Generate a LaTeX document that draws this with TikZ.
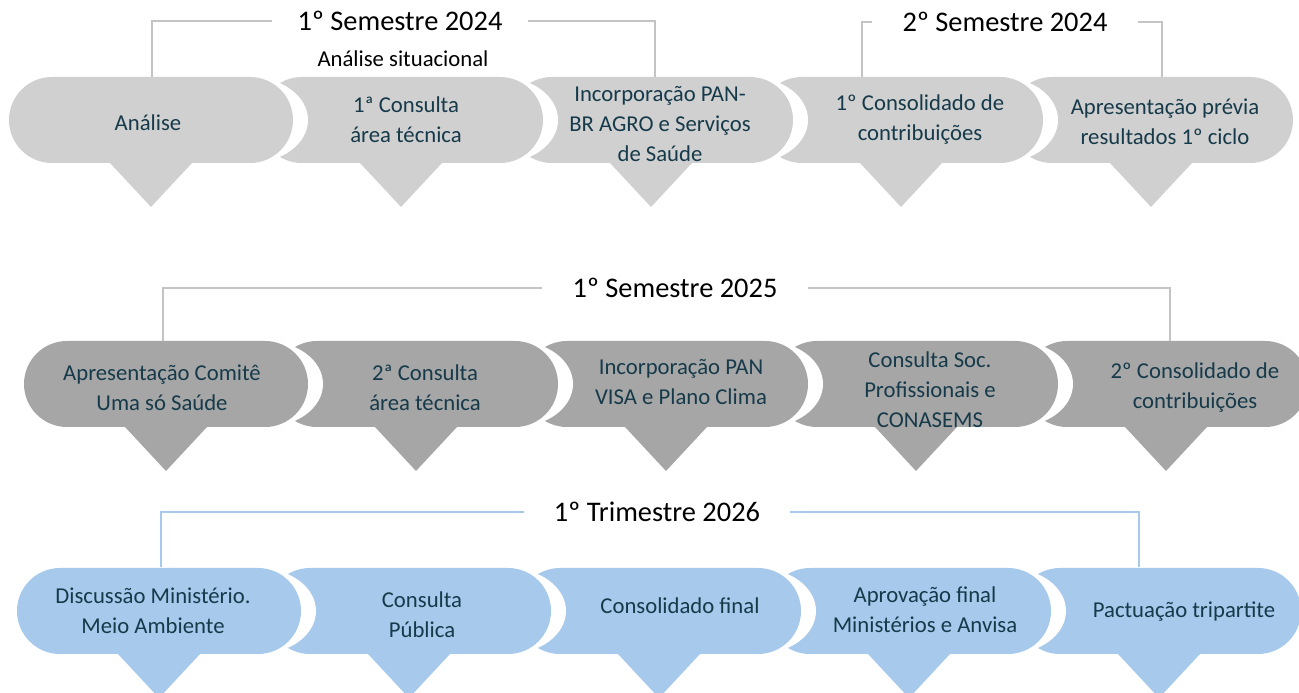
\documentclass[tikz,border=0pt]{standalone}
\usepackage{fontspec}
\setmainfont{Carlito}
\definecolor{txt}{HTML}{163A4A}
\definecolor{rowA}{HTML}{D0D0D0}
\definecolor{rowB}{HTML}{A6A6A6}
\definecolor{rowC}{HTML}{A6C9EC}
\definecolor{lineA}{HTML}{C4C4C4}
% pill with a pointer below: left x, bottom y, colour
\newcommand{\phasebox}[3]{%
  \fill[white] (#1+241,#2+86) arc[start angle=90, end angle=-90, x radius=58pt, y radius=43pt];
  \fill[#3] (#1+43,#2) arc[start angle=270, end angle=90, radius=43pt] -- (#1+241,#2+86)
    arc[start angle=90, end angle=-90, radius=43pt] -- (#1+183,#2) -- (#1+142,#2-44) -- (#1+101,#2) -- cycle;}

\begin{document}
\begin{tikzpicture}[x=1pt, y=1pt,
		every node/.style = {align=center, text=txt, font=\fontsize{22.7}{30}\selectfont},
		period/.style = {text=black, font=\fontsize{28.4}{34}\selectfont, inner xsep=30pt},
		bracket/.style = {draw=lineA, line width=2pt}]
	\useasboundingbox (0,0) rectangle (1299,693);
	\foreach \i in {4,3,...,0} {
		\phasebox{9+250*\i}{530}{rowA}
		\phasebox{24+250*\i}{266}{rowB}
		\phasebox{17+250*\i}{39}{rowC}
	}
	\node (a1) at (148,570) {Análise};
	\node (a2) at (406,573) {1ª Consulta\\área técnica};
	\node (a3) at (660,569) {Incorporação PAN-\\BR AGRO e Serviços\\de Saúde};
	\node (a4) at (920,573) {1º Consolidado de\\contribuições};
	\node (a5) at (1165,571) {Apresentação prévia\\resultados 1º ciclo};
	\node (b1) at (162,305) {Apresentação Comitê\\Uma só Saúde};
	\node (b2) at (425,305) {2ª Consulta\\área técnica};
	\node (b3) at (681,311) {Incorporação PAN\\VISA e Plano Clima};
	\node (b4) at (930,303) {Consulta Soc.\\Profissionais e\\CONASEMS};
	\node (b5) at (1195,305) {2º Consolidado de\\contribuições};
	\node (c1) at (153,82) {Discussão Ministério.\\Meio Ambiente};
	\node (c2) at (422,78) {Consulta\\Pública};
	\node (c3) at (680,87) {Consolidado final};
	\node (c4) at (925,83) {Aprovação final\\Ministérios e Anvisa};
	\node (c5) at (1184,81) {Pactuação tripartite};

	\coordinate (p1) at (152,616);
	\coordinate (p3) at (655,616);
	\coordinate (p4) at (862,616);
	\coordinate (p5) at (1162,616);
	\coordinate (q1) at (163,352);
	\coordinate (q5) at (1170,352);
	\coordinate (r1) at (161,126);
	\coordinate (r5) at (1139,126);
	\node[period, inner xsep=25pt] (sem1) at (400,672) {1º Semestre 2024};
	\node[text=black] (sit) at (403,634) {Análise situacional};
	\node[period] (sem2) at (1005,671) {2º Semestre 2024};
	\node[period] (sem3) at (675,405) {1º Semestre 2025};
	\node[period] (tri1) at (657,181) {1º Trimestre 2026};
	\draw[bracket] (p1) |- (sem1.west);
	\draw[bracket] (sem1.east) -| (p3);
	\draw[bracket] (p4) |- (sem2.west);
	\draw[bracket] (sem2.east) -| (p5);
	\draw[bracket] (q1) |- (sem3.west);
	\draw[bracket] (sem3.east) -| (q5);
	\draw[bracket, draw=rowC] (r1) |- (tri1.west);
	\draw[bracket, draw=rowC] (tri1.east) -| (r5);
\end{tikzpicture}
\end{document}
